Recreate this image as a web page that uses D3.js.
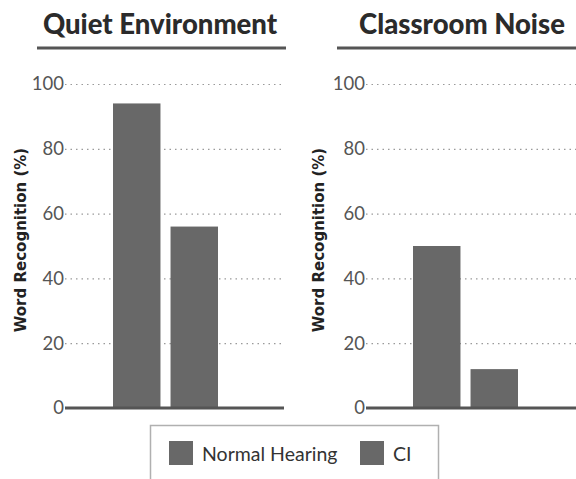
<!DOCTYPE html>
<html><head><meta charset="utf-8">
<script src="https://cdn.jsdelivr.net/npm/d3@7"></script>
<style>body{margin:0;background:#fff}svg{display:block}</style>
</head><body>
<svg id="c" width="576" height="479"></svg>
<script>
const panels = ["Quiet Environment", "Classroom Noise"];
const groups = ["Normal Hearing", "CI"];
const normalHearing = [94, 50];
const ci = [56, 12];
const yTicks = [0, 20, 40, 60, 80, 100];
const yLabel = "Word Recognition (%)";

const svg = d3.select("#c");
const font = "Lato, 'DejaVu Sans', sans-serif";
const barColor = "#686868";
const y = d3.scaleLinear().domain([0, 100]).range([408, 84]);

const layout = [
  {axisX0: 65, axisX1: 284, barX0: 113, barX1: 218, titleX: 160, ulX0: 37, ulX1: 286, labX: 26},
  {axisX0: 366, axisX1: 590, barX0: 413, barX1: 518, titleX: 462, ulX0: 337, ulX1: 590, labX: 324}
];

panels.forEach((p, i) => {
  const L = layout[i];
  const g = svg.append("g");
  // title
  g.append("text").attr("x", L.titleX).attr("y", 34).attr("text-anchor", "middle")
    .attr("font-family", font).attr("font-weight", 900).attr("font-size", 27.5)
    .attr("fill", "#2b2b2b").text(p);
  g.append("line").attr("x1", L.ulX0).attr("x2", L.ulX1).attr("y1", 48).attr("y2", 48)
    .attr("stroke", "#555").attr("stroke-width", 3);
  // grid + tick labels
  const ax = d3.axisLeft(y).tickValues(yTicks).tickSize(-(L.axisX1 - L.axisX0)).tickPadding(2);
  const ag = g.append("g").attr("transform", `translate(${L.axisX0},0)`).call(ax);
  ag.select(".domain").remove();
  ag.selectAll(".tick line").attr("stroke", "#9a9a9a").attr("stroke-width", 1.2)
    .attr("stroke-dasharray", "1.5,4");
  ag.selectAll(".tick text").attr("font-family", font).attr("font-size", 18.5)
    .attr("fill", "#555").attr("x", -1);
  ag.selectAll(".tick").filter(d => d === 0).select("line").remove();
  // bars
  const x = d3.scaleBand().domain(groups).range([L.barX0, L.barX1]).paddingInner(0.175).paddingOuter(0);
  const vals = [normalHearing[i], ci[i]];
  g.selectAll("rect.bar").data(groups).join("rect").attr("class", "bar")
    .attr("x", d => x(d)).attr("width", x.bandwidth())
    .attr("y", (d, j) => y(vals[j])).attr("height", (d, j) => y(0) - y(vals[j]))
    .attr("fill", barColor);
  // baseline
  g.append("line").attr("x1", L.axisX0).attr("x2", L.axisX1).attr("y1", y(0)).attr("y2", y(0))
    .attr("stroke", "#555").attr("stroke-width", 3);
  // y label
  g.append("text").attr("transform", `translate(${L.labX},${240}) rotate(-90)`)
    .attr("text-anchor", "middle").attr("font-family", "'DejaVu Sans', sans-serif").attr("font-weight", 700)
    .attr("font-size", 15).attr("fill", "#222").text(yLabel);
});

// legend
const lg = svg.append("g");
lg.append("rect").attr("x", 150.5).attr("y", 425.5).attr("width", 288).attr("height", 70)
  .attr("fill", "#fff").attr("stroke", "#b0b0b0").attr("stroke-width", 1.5);
const legendX = [169, 360];
groups.forEach((gname, j) => {
  lg.append("rect").attr("x", legendX[j]).attr("y", 441).attr("width", 24).attr("height", 24)
    .attr("fill", barColor);
  lg.append("text").attr("x", legendX[j] + 33).attr("y", 461).attr("font-family", font)
    .attr("font-size", 19.5).attr("fill", "#333").text(gname);
});
</script>
</body></html>
